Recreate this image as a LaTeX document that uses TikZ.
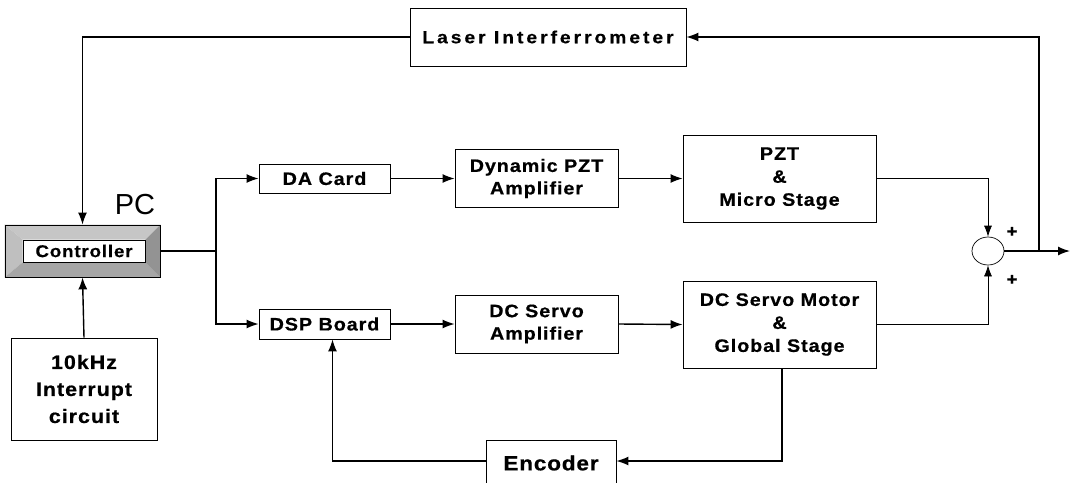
\documentclass[tikz,border=0pt]{standalone}
\usepackage{fontspec}
\setmainfont{Liberation Sans}
\newfontfamily\bxa{Liberation Sans Bold}[FakeStretch=1.1, LetterSpace=5, FakeBold=0.6]
\newfontfamily\bxl{Liberation Sans Bold}[FakeStretch=1.1, LetterSpace=17, FakeBold=0.6]
\newfontfamily\bxe{Liberation Sans Bold}[FakeStretch=1.1, LetterSpace=4, FakeBold=0.6]
\usetikzlibrary{arrows.meta,shapes.geometric,backgrounds}
\tikzset{
  blk/.style={draw, line width=0.8pt, inner sep=0pt, align=center,
    font=\bxa\fontsize{18}{22.5}\selectfont},
  conn/.style={line width=1.4pt, -{Latex[length=12pt,width=9pt]}},
  thin conn/.style={line width=0.7pt, -{Latex[length=11pt,width=8pt]}},
  plain/.style={line width=1.4pt},
  sign/.style={font=\bxa\fontsize{17}{17}\selectfont, inner sep=0pt},
}
\begin{document}
\begin{tikzpicture}[x=1pt,y=-1pt]
\useasboundingbox (0,0) rectangle (1073,482);
% blocks
\node[blk, minimum width=276, minimum height=58, font=\bxl\fontsize{17.5}{20}\selectfont] (laser) at (548,37) {Laser Interferrometer};
\node[draw, line width=0.8pt, minimum width=155, minimum height=52, inner sep=0pt] (ctrl) at (82.5,251) {};
\node[draw, line width=0.6pt, fill=white, minimum width=122, minimum height=22, inner sep=0pt,
  font=\bxa\fontsize{17}{18}\selectfont] (ctrltext) at (84,251) {Controller};
\node[font=\fontsize{29}{30}\selectfont, inner sep=0pt] (pc) at (135,205) {PC};
\node[blk, minimum width=146, minimum height=102, font=\bxa\fontsize{19.5}{27}\selectfont] (irq) at (84,389) {10kHz\\Interrupt\\circuit};
\node[blk, minimum width=131, minimum height=29] (da) at (324.5,178.5) {DA Card};
\node[blk, minimum width=131, minimum height=30] (dsp) at (324.5,324) {DSP Board};
\node[blk, minimum width=163, minimum height=58] (dpa) at (536.5,178.5) {Dynamic PZT\\Amplifier};
\node[blk, minimum width=163, minimum height=58] (dca) at (536.5,324) {DC Servo\\Amplifier};
\node[blk, minimum width=193, minimum height=87, font=\bxa\fontsize{18}{23}\selectfont] (pzt) at (779.5,178.5) {PZT\\\&\\Micro Stage};
\node[blk, minimum width=193, minimum height=87, font=\bxa\fontsize{18}{23}\selectfont] (dcm) at (779.5,324.5) {DC Servo Motor\\\&\\Global Stage};
\node[blk, minimum width=130, minimum height=46, font=\bxe\fontsize{20.5}{22}\selectfont] (enc) at (551,463) {Encoder};
\node[draw, ellipse, line width=0.7pt, minimum width=32, minimum height=28, inner sep=0pt] (sum) at (988,251) {};
\node[sign] (p1) at (1012,232) {+};
\node[sign] (p2) at (1012,280) {+};
% bevel of the controller
\begin{scope}[on background layer]
\fill[gray!45] (ctrl.north west) -- (ctrl.north east) -- (ctrltext.north east) -- (ctrltext.north west) -- cycle;
\fill[gray!50] (ctrl.north west) -- (ctrltext.north west) -- (ctrltext.south west) -- (ctrl.south west) -- cycle;
\fill[gray!70] (ctrl.south west) -- (ctrltext.south west) -- (ctrltext.south east) -- (ctrl.south east) -- cycle;
\fill[gray!85] (ctrl.north east) -- (ctrltext.north east) -- (ctrltext.south east) -- (ctrl.south east) -- cycle;
\end{scope}
% coordinates
\coordinate (br) at (216,251);
\coordinate (jn) at (1039,251);
\coordinate (out) at (1070,251);
% connectors
\draw[conn] (laser.west) -| (ctrl.north);
\draw[conn] (irq.north) -- (ctrl.south);
\draw[plain] (ctrl.east) -- (br);
\draw[conn] (br) |- (da.west);
\draw[conn] (br) |- (dsp.west);
\draw[conn] (da.east) -- (dpa.west);
\draw[conn] (dpa.east) -- (pzt.west);
\draw[conn] (dsp.east) -- (dca.west);
\draw[conn] (dca.east) -- (dcm.west);
\draw[thin conn] (pzt.east) -| (sum.north);
\draw[thin conn] (dcm.east) -| (sum.south);
\draw[conn] (sum.east) -- (out);
\draw[conn] (jn) |- (laser.east);
\draw[conn] ([xshift=2.5pt]dcm.south) |- ([yshift=2pt]enc.east);
\draw[conn] ([yshift=2pt]enc.west) -| ([xshift=8pt]dsp.south);
\end{tikzpicture}
\end{document}
